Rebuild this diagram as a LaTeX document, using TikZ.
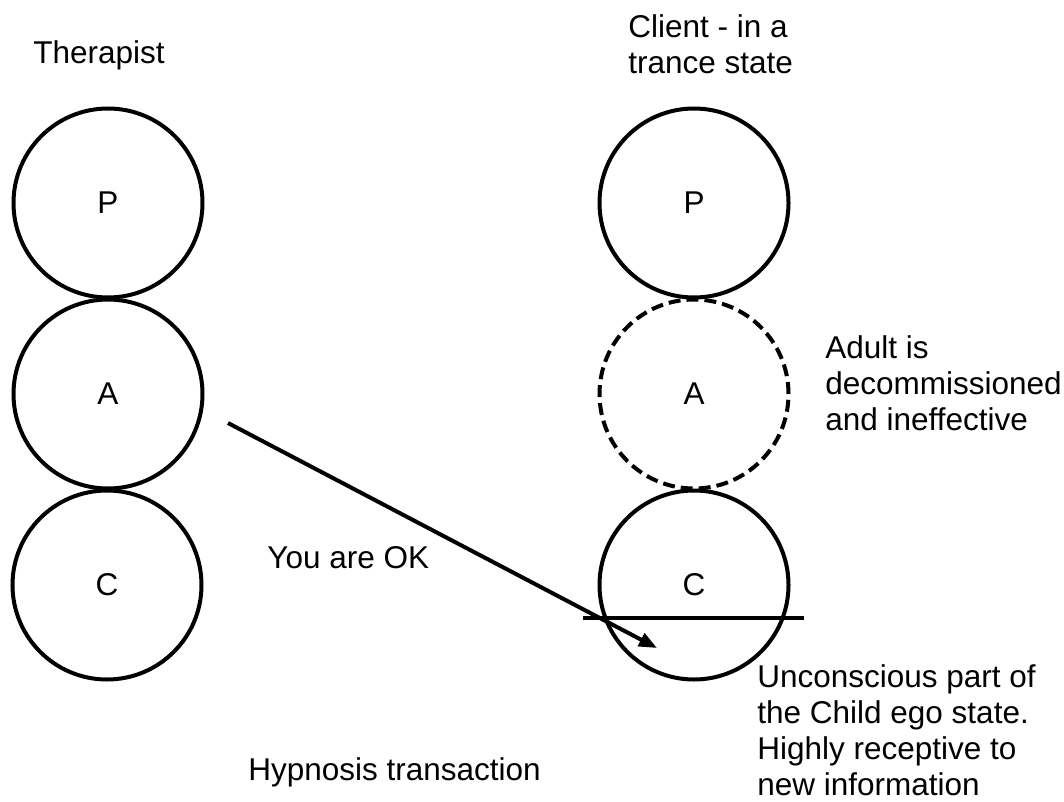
\documentclass[tikz,border=0pt]{standalone}
\usepackage{fontspec}
\setmainfont{Liberation Sans}
\usetikzlibrary{arrows.meta, calc, positioning}

\begin{document}
\begin{tikzpicture}[x=0.5pt, y=-0.5pt, >={Triangle[length=9pt, width=7pt]},
        ego/.style={circle, draw, line width=2pt, minimum size=94.5pt, inner sep=0pt, font=\fontsize{15.75}{18}\selectfont},
        offline/.style={ego, dash pattern=on 6pt off 3pt},
        note/.style={anchor=north west, inner sep=0pt, align=left, font=\fontsize{15.75}{18}\selectfont}]
    \useasboundingbox (0,0) rectangle (1064,802);

    % Therapist
    \node[note] (therapist) at (33,40) {Therapist};
    \node[ego] (tP) at (108,203) {P};
    \node[ego] (tA) at (108,394) {A};
    \node[ego] (tC) at (107,585) {C};

    % Client
    \node[note] (client) at (628,14) {Client - in a\\trance state};
    \node[ego] (cP) at (694,203) {P};
    \node[offline] (cA) at (694,394) {A};
    \node[ego] (cC) at (694,585) {C};

    % Unconscious line through the Child
    \coordinate (cutL) at ($(cC)+(-111,33)$);
    \coordinate (cutR) at ($(cC)+(110,33)$);
    \draw[line width=2pt] (cutL) -- (cutR);

    % Transaction
    \coordinate (send) at (228,423);
    \coordinate (recv) at (657,648);
    \draw[->, line width=2pt] (send) -- (recv);

    % Notes
    \node[note] (ok) at (267,546) {You are OK};
    \node[note] (adult) at (825,335) {Adult is\\decommissioned\\and ineffective};
    \node[note] (child) at (757,664) {Unconscious part of\\the Child ego state.\\Highly receptive to\\new information};
    \node[note] (title) at (248,757) {Hypnosis transaction};
\end{tikzpicture}
\end{document}
